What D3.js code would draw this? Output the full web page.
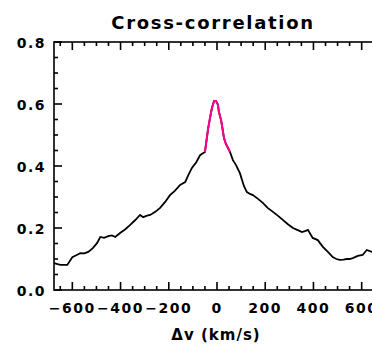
<!DOCTYPE html>
<html>
<head>
<meta charset="utf-8">
<script src="https://cdn.jsdelivr.net/npm/d3@7"></script>
<style>
  body { margin: 0; background: #fff; }
  svg text { font-family: "DejaVu Sans", sans-serif; fill: #000; }
</style>
</head>
<body>
<div id="chart"></div>
<script>
// velocity (km/s) and correlation values
var velocity = [-676, -650, -621, -600, -584, -567, -550, -534, -515, -497, -484, -468, -451, -436, -422, -402, -380, -360, -340, -319, -306, -290, -277, -256, -236, -215, -195, -175, -153, -132, -118, -104, -86, -70, -60, -50,
  -46, -37, -29, -21, -12, -4, 4, 8, 17, 21, 29, 37, 46, 54,
  66, 79, 95, 112, 124, 137, 149, 170, 190, 210, 232, 252, 273, 294, 315, 335, 352, 365, 377, 397, 418, 439, 460, 480, 495, 509, 525, 538, 550, 563, 584, 604, 621, 642, 660, 676];
var correlation = [0.087, 0.081, 0.081, 0.106, 0.112, 0.119, 0.118, 0.123, 0.135, 0.152, 0.171, 0.168, 0.174, 0.176, 0.171, 0.184, 0.196, 0.21, 0.225, 0.242, 0.235, 0.24, 0.242, 0.252, 0.265, 0.284, 0.306, 0.32, 0.339, 0.348, 0.372, 0.394, 0.412, 0.435, 0.44, 0.445,
  0.468, 0.52, 0.555, 0.587, 0.61, 0.61, 0.597, 0.574, 0.548, 0.529, 0.49, 0.471, 0.458, 0.445,
  0.419, 0.403, 0.377, 0.335, 0.316, 0.31, 0.306, 0.294, 0.281, 0.265, 0.252, 0.24, 0.226, 0.212, 0.2, 0.193, 0.187, 0.19, 0.194, 0.168, 0.161, 0.139, 0.123, 0.106, 0.1, 0.097, 0.098, 0.1, 0.1, 0.103, 0.11, 0.113, 0.129, 0.123, 0.125, 0.127];
var peakRange = [-50, 54];
var xTicks = [-600, -400, -200, 0, 200, 400, 600];
var yTicks = [0.0, 0.2, 0.4, 0.6, 0.8];

(function(){
  var width = 372, height = 348;
  var pLeft = 54, pRight = 380, pTop = 42, pBottom = 290;

  var svg = d3.select("#chart").append("svg")
    .attr("width", width)
    .attr("height", height);

  var x = d3.scaleLinear().domain([-676, 676]).range([pLeft, pRight]);
  var y = d3.scaleLinear().domain([0, 0.8]).range([pBottom, pTop]);

  var data = velocity.map(function(v, i){ return {v: v, c: correlation[i]}; });
  var peak = data.filter(function(d){ return d.v >= peakRange[0] && d.v <= peakRange[1]; });

  var line = d3.line()
    .x(function(d){ return x(d.v); })
    .y(function(d){ return y(d.c); });

  svg.append("path")
    .datum(data)
    .attr("d", line)
    .attr("fill", "none")
    .attr("stroke", "#000")
    .attr("stroke-width", 1.8);

  svg.append("path")
    .datum(peak)
    .attr("d", line)
    .attr("fill", "none")
    .attr("stroke", "#ff0090")
    .attr("stroke-width", 2);

  // frame with inward ticks on all four sides
  var minorX = d3.range(-650, 676, 50);
  var minorY = d3.range(0, 0.801, 0.05);

  var axes = svg.append("g").attr("stroke", "#000").attr("stroke-width", 1.6);
  axes.append("rect")
    .attr("x", pLeft).attr("y", pTop)
    .attr("width", pRight - pLeft).attr("height", pBottom - pTop)
    .attr("fill", "none");

  minorX.forEach(function(v){
    var len = (v % 200 === 0) ? 8 : 4;
    axes.append("line").attr("x1", x(v)).attr("x2", x(v)).attr("y1", pBottom).attr("y2", pBottom - len);
    axes.append("line").attr("x1", x(v)).attr("x2", x(v)).attr("y1", pTop).attr("y2", pTop + len);
  });
  minorY.forEach(function(c, i){
    var len = (i % 4 === 0) ? 8 : 4;
    axes.append("line").attr("x1", pLeft).attr("x2", pLeft + len).attr("y1", y(c)).attr("y2", y(c));
    axes.append("line").attr("x1", pRight).attr("x2", pRight - len).attr("y1", y(c)).attr("y2", y(c));
  });

  // tick labels
  svg.selectAll(".xlab")
    .data(xTicks)
    .enter().append("text")
    .attr("class", "xlab")
    .attr("x", function(d){ return x(d); })
    .attr("y", 313)
    .attr("text-anchor", "middle")
    .style("font-size", "14px")
    .style("font-weight", "bold")
    .style("letter-spacing", "1.5px")
    .text(d3.format("d"));

  svg.selectAll(".ylab")
    .data(yTicks)
    .enter().append("text")
    .attr("class", "ylab")
    .attr("x", 46)
    .attr("y", function(d){ return y(d) + 6; })
    .attr("text-anchor", "end")
    .style("font-size", "14px")
    .style("font-weight", "bold")
    .style("letter-spacing", "1.5px")
    .text(d3.format(".1f"));

  svg.append("text")
    .attr("x", 213)
    .attr("y", 29)
    .attr("text-anchor", "middle")
    .style("font-size", "18px")
    .style("font-weight", "bold")
    .style("letter-spacing", "1.7px")
    .text("Cross-correlation");

  svg.append("text")
    .attr("x", 216)
    .attr("y", 340)
    .attr("text-anchor", "middle")
    .style("font-size", "15px")
    .style("font-weight", "bold")
    .style("letter-spacing", "1px")
    .text("Δv (km/s)");
})();
</script>
</body>
</html>
